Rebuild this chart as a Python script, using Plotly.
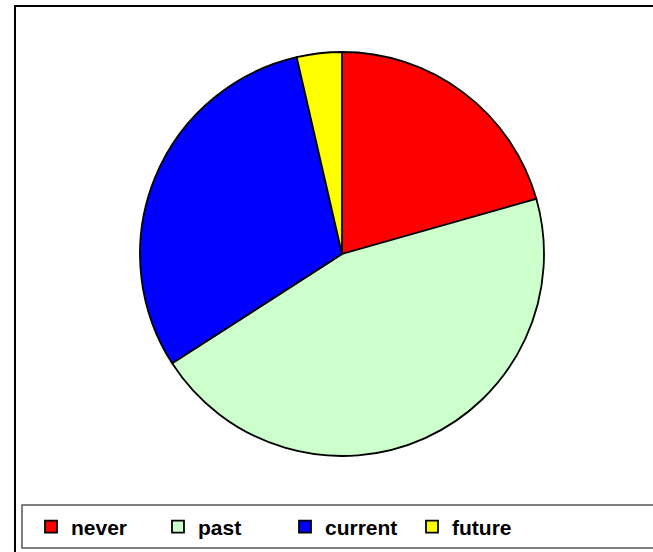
import plotly.graph_objects as go

categories = ["never", "past", "current", "future"]
values = [20.6, 45.3, 30.5, 3.6]
colors = ["#FF0000", "#CCFFCC", "#0000FF", "#FFFF00"]

W, H = 653, 552

def px_x(x):
    return x / W

def px_y(y):
    return 1 - y / H

cx, cy, r = 342, 254, 202

fig = go.Figure(go.Pie(
    labels=categories,
    values=values,
    sort=False,
    direction="clockwise",
    rotation=0,
    textinfo="none",
    marker=dict(colors=colors, line=dict(color="#000000", width=1.8)),
    domain=dict(x=[px_x(cx - r), px_x(cx + r)], y=[px_y(cy + r), px_y(cy - r)]),
))

fig.update_layout(
    width=W, height=H,
    margin=dict(l=0, r=0, t=0, b=0),
    paper_bgcolor="white",
    showlegend=True,
    legend=dict(
        orientation="h",
        x=px_x(31), xanchor="left",
        y=px_y(527), yanchor="middle",
        font=dict(family="Liberation Sans, Arial, sans-serif", size=21, color="black", weight="bold"),
        entrywidth=82, entrywidthmode="pixels",
        bgcolor="rgba(0,0,0,0)",
        borderwidth=0,
    ),
    shapes=[
        dict(type="rect", xref="paper", yref="paper",
             x0=px_x(15), x1=px_x(700), y0=px_y(6), y1=px_y(600),
             line=dict(color="black", width=2), fillcolor="rgba(0,0,0,0)"),
        dict(type="rect", xref="paper", yref="paper",
             x0=px_x(22), x1=px_x(700), y0=px_y(505), y1=px_y(548),
             line=dict(color="#555555", width=1.5), fillcolor="rgba(0,0,0,0)"),
    ],
)

fig.write_html(
    "out.html",
    config={"displayModeBar": False},
    post_script="document.body.style.margin='0';document.body.style.overflow='hidden';",
)
